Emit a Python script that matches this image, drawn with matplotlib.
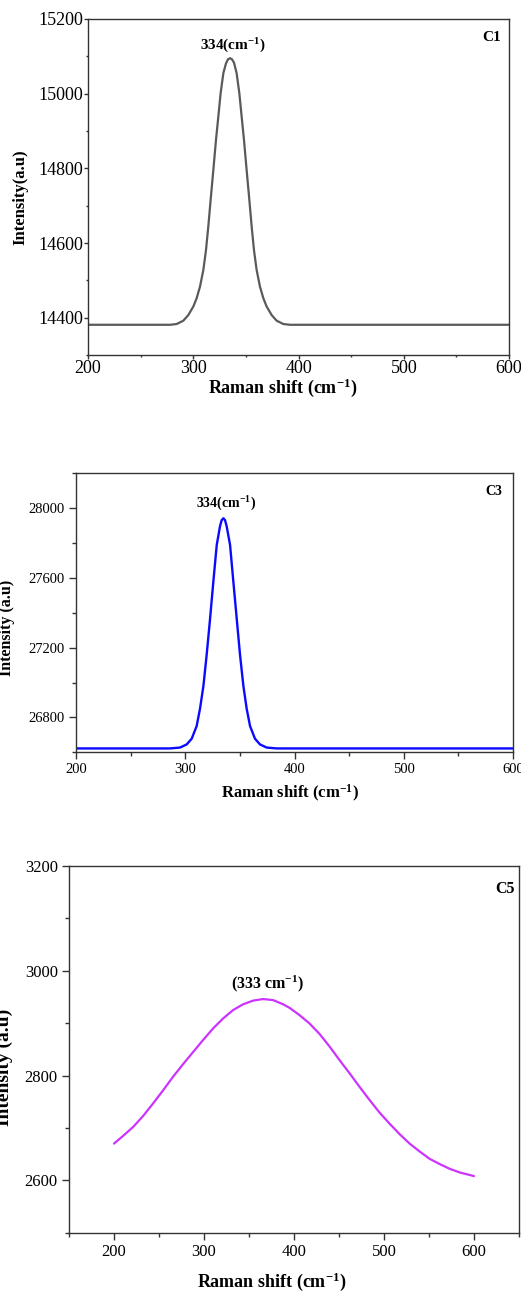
"""
ラマンスペクトル (C1, C3, C5) の比較プロット
"""
import matplotlib
matplotlib.use("Agg")
import matplotlib.pyplot as plt
from matplotlib.ticker import MultipleLocator

plt.rcParams['font.family'] = ['Liberation Serif', 'DejaVu Serif']
plt.rcParams['mathtext.fontset'] = 'custom'
plt.rcParams['mathtext.rm'] = 'Liberation Serif:bold'
plt.rcParams['mathtext.it'] = 'Liberation Serif:bold'
plt.rcParams['mathtext.bf'] = 'Liberation Serif:bold'

# C1 スペクトル
c1_shift = [200, 277.9, 284.2, 290.6, 295.3, 300.1, 303.2, 306.4, 309.6, 312.1, 314.3, 316.5,
            319.1, 321.6, 323.8, 326.0, 328.6, 331.1, 333.0, 334.9, 336.8, 338.7, 341.2,
            343.8, 346.0, 348.2, 350.7, 353.3, 355.5, 357.7, 360.2, 363.4, 366.6, 369.7,
            374.5, 379.2, 385.6, 391.9, 600]
c1_intensity = [14381, 14381, 14383, 14392, 14407, 14430, 14452, 14483, 14528, 14581, 14644,
                14715, 14796, 14876, 14938, 15001, 15055, 15081, 15092, 15095, 15092, 15083,
                15055, 15001, 14938, 14876, 14796, 14715, 14644, 14581, 14528, 14483, 14452,
                14430, 14407, 14392, 14383, 14381, 14381]

# C3 スペクトル
c3_shift = [200, 286.0, 295.2, 301.3, 305.9, 310.4, 313.5, 316.6, 319.6, 322.7, 325.7, 328.8,
            331.8, 333.3, 334.9, 336.4, 337.9, 341.0, 344.0, 347.1, 350.1, 353.2, 356.2,
            359.3, 363.8, 368.4, 374.5, 383.7, 600]
c3_intensity = [26622, 26622, 26627, 26645, 26678, 26750, 26850, 26980, 27160, 27366, 27579,
                27789, 27896, 27931, 27942, 27931, 27896, 27789, 27579, 27366, 27160, 26980,
                26850, 26750, 26678, 26645, 26627, 26622, 26622]

# C5 スペクトル
c5_shift = [200, 210.3, 221.4, 232.5, 243.6, 254.7, 265.8, 276.9, 288.0, 299.1, 310.2, 321.3,
            332.4, 343.5, 354.6, 365.7, 376.8, 387.9, 395.3, 406.4, 417.5, 428.6, 439.7,
            450.8, 461.9, 473.0, 484.1, 495.2, 506.3, 517.4, 528.5, 539.6, 550.7, 561.8,
            572.9, 584.0, 600]
c5_intensity = [2670, 2685, 2702, 2723, 2747, 2772, 2798, 2822, 2845, 2868, 2890, 2909, 2925,
                2936, 2943, 2946, 2944, 2936, 2929, 2915, 2899, 2879, 2855, 2829, 2804, 2778,
                2753, 2729, 2708, 2688, 2670, 2655, 2641, 2631, 2622, 2615, 2608]


def _plot_panel(ax, x, y, color, lw, xlim, ylim, y_major, y_minor, x_ticks,
                peak_label, peak_pos, peak_size, tag, tag_pos, tick_size, tick_len, tick_pad,
                ylabel, ylabel_pos, ylabel_size, xlabel_size, xlabel_pos):
    """1 枚分のスペクトルを描画"""
    ax.plot(x, y, color=color, linewidth=lw, solid_capstyle='round',
            solid_joinstyle='round')

    ax.set_xlim(*xlim)
    ax.set_ylim(*ylim)
    ax.set_xticks(x_ticks)
    ax.xaxis.set_minor_locator(MultipleLocator(50))
    ax.yaxis.set_major_locator(MultipleLocator(y_major))
    ax.yaxis.set_minor_locator(MultipleLocator(y_minor))

    ax.tick_params(which='both', direction='out', top=False, right=False,
                   labelsize=tick_size, color='#333333', pad=tick_pad)
    ax.tick_params(which='major', length=tick_len, width=1)
    ax.tick_params(which='minor', length=tick_len * 0.55, width=1)
    for sp in ax.spines.values():
        sp.set_color('#333333')
        sp.set_linewidth(1.0)

    ax.text(peak_pos[0], peak_pos[1], peak_label, ha='center', va='center',
            fontsize=peak_size, fontweight='bold')
    ax.text(tag_pos[0], tag_pos[1], tag, transform=ax.transAxes, ha='center',
            va='center', fontsize=peak_size, fontweight='bold')

    ax.set_xlabel(r'Raman shift (cm$^{\mathrm{-1}}$)', fontsize=xlabel_size,
                  fontweight='bold')
    ax.xaxis.set_label_coords(*xlabel_pos)
    ax.xaxis.label.set_va('center')
    ax.set_ylabel(ylabel, fontsize=ylabel_size, fontweight='bold')
    ax.yaxis.set_label_coords(*ylabel_pos)
    ax.yaxis.label.set_va('center')


fig = plt.figure(figsize=(5.21, 12.91), dpi=100)

ax1 = fig.add_axes([0.1689, 0.7250, 0.8081, 0.2603])
_plot_panel(ax1, c1_shift, c1_intensity, '#5a5a5a', 1.6, (200, 600), (14300, 15200),
            200, 100, [200, 300, 400, 500, 600],
            r'334(cm$^{\mathrm{-1}}$)', (337.8, 15128), 11, 'C1', (0.9596, 0.9435),
            13, 3, 0.5,
            'Intensity(a.u)', (-0.1615, 0.470), 12, 13, (0.463, -0.098))

ax2 = fig.add_axes([0.1459, 0.4173, 0.8388, 0.2161])
_plot_panel(ax2, c3_shift, c3_intensity, '#0a0aff', 1.7, (200, 600), (26600, 28200),
            400, 200, [200, 300, 400, 500, 600],
            r'334(cm$^{\mathrm{-1}}$)', (337.3, 28025), 10, 'C3', (0.9565, 0.933),
            10.5, 5, 3,
            'Intensity (a.u)', (-0.158, 0.4455), 11.5, 12, (0.4897, -0.146))

ax3 = fig.add_axes([0.1324, 0.0452, 0.8637, 0.2840])
_plot_panel(ax3, c5_shift, c5_intensity, '#cc33ff', 1.6, (150, 650), (2500, 3200),
            200, 100, [200, 300, 400, 500, 600],
            r'(333 cm$^{\mathrm{-1}}$)', (370.9, 2976), 11.5, 'C5', (0.969, 0.937),
            12, 5, 3,
            'Intensity (a.u)', (-0.1444, 0.452), 14, 13, (0.451, -0.1336))

fig.savefig('out.png', dpi=100)
plt.close(fig)
